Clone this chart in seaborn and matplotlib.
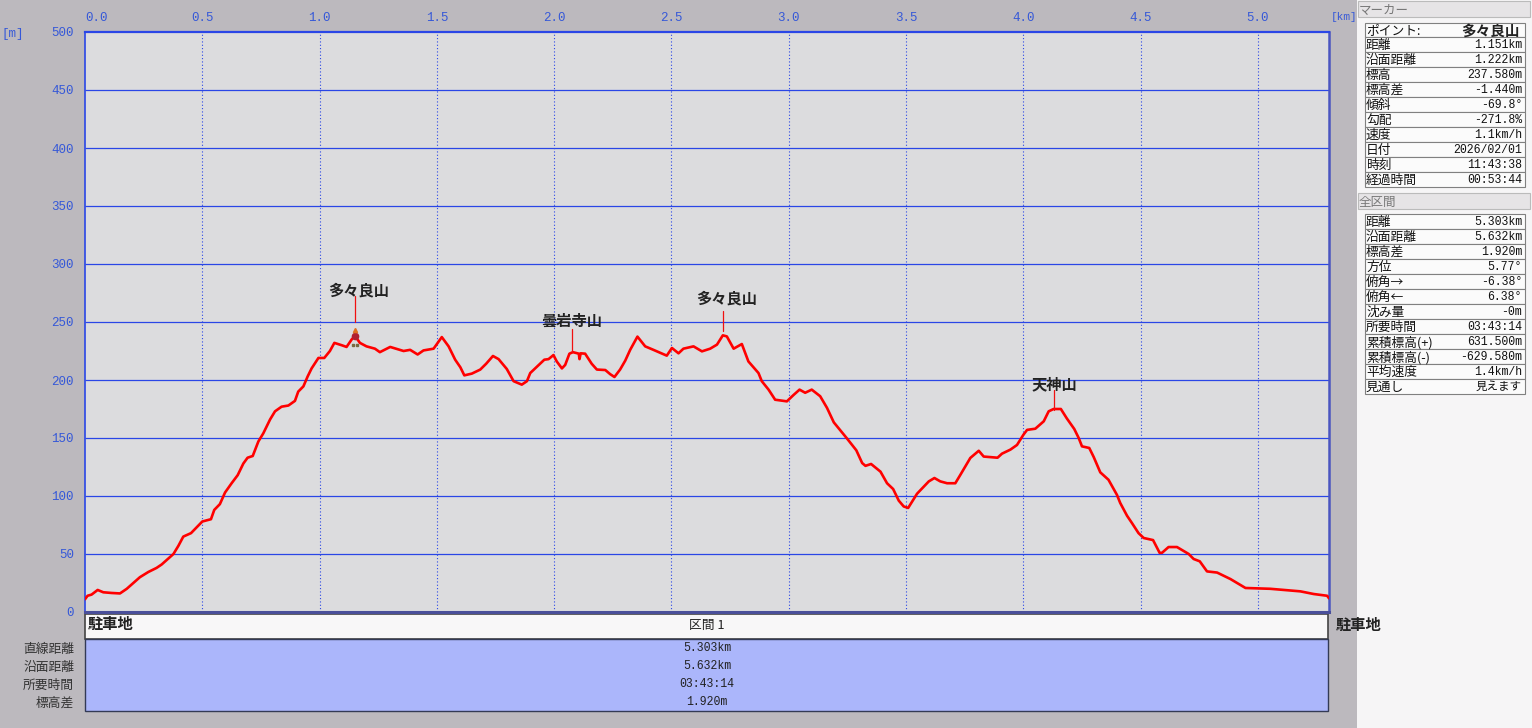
import pandas as pd
import seaborn as sns
import matplotlib.pyplot as plt
from matplotlib.patches import Rectangle

# profile
dist_km = [0, .011, .028, .054, .078, .114, .149, .178, .206, .234, .27, .305, .327, .355, .377, .398, .419, .452,
           .476, .5, .537, .551, .575, .597, .625, .651, .675, .693, .715, .739, .76, .789, .81, .838, .867, .895,
           .909, .931, .949, .966, .995, 1.02, 1.044, 1.063, 1.094, 1.115, 1.137, 1.151, 1.172, 1.2, 1.236, 1.257,
           1.301, 1.358, 1.386, 1.418, 1.443, 1.486, 1.521, 1.55, 1.578, 1.6, 1.617, 1.649, 1.685, 1.71, 1.739,
           1.763, 1.798, 1.827, 1.862, 1.884, 1.898, 1.929, 1.958, 1.976, 1.997, 2.011, 2.033, 2.047, 2.065, 2.08,
           2.105, 2.108, 2.113, 2.132, 2.16, 2.182, 2.218, 2.239, 2.257, 2.281, 2.303, 2.324, 2.355, 2.388, 2.423,
           2.48, 2.502, 2.53, 2.551, 2.594, 2.63, 2.665, 2.694, 2.719, 2.736, 2.765, 2.8, 2.828, 2.871, 2.885,
           2.914, 2.942, 2.992, 3.02, 3.046, 3.07, 3.098, 3.134, 3.163, 3.192, 3.22, 3.249, 3.288, 3.313, 3.327,
           3.351, 3.391, 3.419, 3.445, 3.469, 3.49, 3.509, 3.547, 3.597, 3.621, 3.646, 3.675, 3.71, 3.732, 3.774,
           3.81, 3.831, 3.89, 3.909, 3.945, 3.973, 4.001, 4.016, 4.051, 4.087, 4.108, 4.129, 4.16, 4.185, 4.217,
           4.236, 4.25, 4.281, 4.3, 4.328, 4.363, 4.399, 4.413, 4.442, 4.463, 4.491, 4.513, 4.553, 4.581, 4.591,
           4.619, 4.655, 4.705, 4.726, 4.752, 4.783, 4.826, 4.883, 4.947, 5.053, 5.181, 5.238, 5.295, 5.303]
elev_m = [11, 14, 15, 19, 17, 16.4, 16, 20, 25, 30, 34.5, 38, 41, 46, 50, 57, 65, 68,
          73, 78, 80, 88, 93, 103, 111, 118, 128, 133, 134.5, 147, 154, 166, 173, 177, 178, 182,
          190, 194.5, 203, 210, 219, 219, 225, 232, 230, 228.5, 235, 238, 232, 229, 227, 224,
          228.5, 225, 226, 222, 225.5, 227, 237, 229, 217.5, 211, 204, 205.5, 209, 214, 220.7,
          218, 209.5, 199, 196, 199, 206, 212, 217.5, 218, 221.5, 216, 210, 213, 222.7, 224,
          222.7, 218, 223, 222.7, 214, 209, 208.6, 205, 202.6, 209, 216.7, 226, 237.4, 229, 226,
          221, 227.6, 223, 227, 229, 224.7, 227, 230.5, 238.5, 237.6, 227, 231, 216, 206, 199,
          191.7, 183, 181.6, 187, 191.7, 189, 191.7, 186, 176, 163.5, 156.6, 149.4, 139.4, 128.4, 126,
          127.6, 121, 111, 106, 96, 91, 89.7, 102, 112.6, 115.5, 112.6, 111, 111, 118.4, 132.8,
          139, 134, 133, 136.5, 140, 144, 153, 157, 158, 164.4, 173, 175, 175, 167, 157.8,
          150, 142.8, 141.4, 133.6, 120.4, 114, 101, 94, 83, 76.7, 68, 63.8, 62, 51, 51,
          56, 56, 50, 45.7, 43.7, 35, 34, 28.4, 20.7, 20, 17.8, 15.5, 14, 11.8]

peak_names = ['多々良山', '曇岩寺山', '多々良山', '天神山']
peak_km = [1.151, 2.075, 2.72, 4.13]
peak_base = [250, 224, 242, 174]
peak_top = [272.4, 244, 259.5, 191]
label_dx = [4, 0, 4, 1]
label_dy = [-2, 0, 5, -2]

km_ticks = [0.0, 0.5, 1.0, 1.5, 2.0, 2.5, 3.0, 3.5, 4.0, 4.5, 5.0]
m_ticks = [0, 50, 100, 150, 200, 250, 300, 350, 400, 450, 500]

marker_rows = [('距離', '1.151km'), ('沿面距離', '1.222km'), ('標高', '237.580m'), ('標高差', '-1.440m'),
               ('傾斜', '-69.8°'), ('勾配', '-271.8%'), ('速度', '1.1km/h'), ('日付', '2026/02/01'),
               ('時刻', '11:43:38'), ('経過時間', '00:53:44')]
total_rows = [('距離', '5.303km'), ('沿面距離', '5.632km'), ('標高差', '1.920m'), ('方位', '5.77°'),
              ('俯角→', '-6.38°'), ('俯角←', '6.38°'), ('沈み量', '-0m'), ('所要時間', '03:43:14'),
              ('累積標高(+)', '631.500m'), ('累積標高(-)', '-629.580m'), ('平均速度', '1.4km/h'), ('見通し', '見えます')]
section_labels = ['直線距離', '沿面距離', '所要時間', '標高差']
section_values = ['5.303km', '5.632km', '03:43:14', '1.920m']

sns.set_theme(style='white')
JP = ['Noto Sans CJK JP', 'DejaVu Sans']
MONO = ['Liberation Mono', 'Noto Sans CJK JP', 'DejaVu Sans']
plt.rcParams['font.family'] = JP

BLUE = '#2a46e6'
TICK = '#3558d8'
W, H = 1532, 728

fig = plt.figure(figsize=(W / 100, H / 100), dpi=100, facecolor='#bcb9be')

# overlay in pixel coordinates for everything round the plot
bg = fig.add_axes([0, 0, 1, 1], zorder=0)
bg.set_xlim(0, W)
bg.set_ylim(H, 0)
bg.axis('off')

ax = fig.add_axes([85 / W, 1 - 612 / H, 1244 / W, 580 / H], zorder=2, facecolor='#dcdcde')
df = pd.DataFrame({'km': dist_km, 'm': elev_m})
ax.vlines(km_ticks[1:], 0, 500, colors=BLUE, lw=.8, linestyles=(0, (1, 2)), zorder=1)
ax.hlines(m_ticks[1:-1], 0, 5.303, colors=BLUE, lw=.9, zorder=1)
sns.lineplot(data=df, x='km', y='m', ax=ax, color='#ff0000', lw=1.9, estimator=None, sort=False, zorder=3)
ax.set_xlim(0, 5.303)
ax.set_ylim(0, 500)
ax.set_xlabel('')
ax.set_ylabel('')
ax.xaxis.tick_top()
ax.set_xticks(km_ticks)
ax.set_yticks(m_ticks)
ax.set_xticklabels([f'{k:.1f}' for k in km_ticks], color=TICK, fontsize=9, family=MONO)
ax.set_yticklabels([str(m) for m in m_ticks], color=TICK, fontsize=9, family=MONO)
ax.tick_params(length=0, pad=6, axis='x')
ax.tick_params(length=0, pad=8, axis='y')
ax.get_xticklabels()[0].set_ha('left')
for side, col, lw in [('top', BLUE, 1.6), ('left', BLUE, 1.2), ('right', '#4a55c0', 1.8), ('bottom', '#4a4f9a', 2.2)]:
    ax.spines[side].set_visible(True)
    ax.spines[side].set_color(col)
    ax.spines[side].set_linewidth(lw)

for name, km, base, top, dx, dy in zip(peak_names, peak_km, peak_base, peak_top, label_dx, label_dy):
    ax.plot([km, km], [base, top], color='#f01010', lw=.9, zorder=3)
    ax.annotate(name, (km, top), xytext=(dx, dy), textcoords='offset pixels', ha='center', va='bottom',
                fontsize=11, fontweight='bold', color='#222222', zorder=5)

# small hiker at the current point
ax.plot([1.151], [237.58], marker='o', ms=4.5, color='#b02030', zorder=4)
ax.plot([1.151], [243], marker='^', ms=3, color='#e07020', zorder=4)
ax.plot([1.143, 1.159], [230.5, 230.5], ls='', marker='s', ms=2, color='#7a6a40', zorder=4)

# right side panel
bg.add_patch(Rectangle((1357, 0), W - 1357, H, fc='#f6f5f6', ec='none'))
bg.add_patch(Rectangle((1358, 1), 172, 16, fc='#e6e4e6', ec='#bbbbbb', lw=.8))
bg.add_patch(Rectangle((1358, 193), 172, 16, fc='#e6e4e6', ec='#bbbbbb', lw=.8))
bg.text(1359, 10, 'マーカー', fontsize=9, color='#777777', va='center')
bg.text(1359, 202, '全区間', fontsize=9, color='#777777', va='center')


def table(top, rows):
    y = top
    for label, value in rows:
        bg.add_patch(Rectangle((1364.5, y), 160, 15, fc='#fbfbfb', ec='#808080', lw=.8))
        bg.text(1366, y + 8.5, label, fontsize=9.2, color='#111111', va='center')
        bg.text(1522, y + 8, value, fontsize=8.3, color='#111111', va='center', ha='right', family=MONO)
        y += 15


bg.add_patch(Rectangle((1364.5, 23), 160, 14, fc='#fbfbfb', ec='#808080', lw=.8))
bg.text(1366, 31, 'ポイント:', fontsize=9.2, color='#111111', va='center')
bg.text(1520, 30.5, '多々良山', fontsize=10.5, fontweight='bold', color='#222222', va='center', ha='right')
table(37, marker_rows)
table(214, total_rows)

# section strip under the plot
bg.add_patch(Rectangle((85, 614), 1243, 25, fc='#f8f7f8', ec='#444444', lw=1.2))
bg.add_patch(Rectangle((85, 639), 1243, 72, fc='#abb6fb', ec='#333a55', lw=1))
bg.text(707, 625, '区間 1', fontsize=9.2, color='#222222', ha='center', va='center')
bg.text(88, 624, '駐車地', fontsize=11, fontweight='bold', color='#222222', va='center')
bg.text(1336, 625, '駐車地', fontsize=11, fontweight='bold', color='#222222', va='center')
for i, (label, value) in enumerate(zip(section_labels, section_values)):
    y = 648 + 18 * i
    bg.text(74, y + 1, label, fontsize=9.2, color='#333333', ha='right', va='center')
    bg.text(707, y, value, fontsize=8.3, color='#222222', ha='center', va='center', family=MONO)

bg.text(1, 34, '[m]', fontsize=9, color=TICK, va='center', family=MONO)
bg.text(1331, 17, '[km]', fontsize=8, color=TICK, va='center', family=MONO)

fig.savefig('out.png', dpi=100, facecolor=fig.get_facecolor())
